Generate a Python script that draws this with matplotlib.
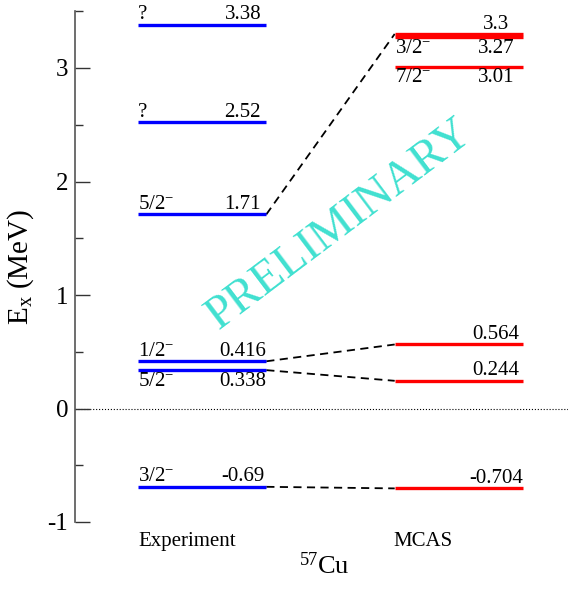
import matplotlib
matplotlib.use("Agg")
import matplotlib.pyplot as plt
from matplotlib.ticker import MultipleLocator

plt.rcParams['font.family'] = ['Liberation Serif', 'DejaVu Serif']
plt.rcParams['mathtext.fontset'] = 'custom'
plt.rcParams['mathtext.rm'] = 'Liberation Serif'
plt.rcParams['mathtext.it'] = 'Liberation Serif:italic'

# ---- data ----
columns = ['Experiment', 'MCAS']
exp_values = [3.38, 2.52, 1.71, 0.416, 0.338, -0.69]
exp_spins = ['?', '?', r'5/2$^{-}$', r'1/2$^{-}$', r'5/2$^{-}$', r'3/2$^{-}$']
exp_side = ['above', 'above', 'above', 'above', 'below', 'above']
exp_text = ['3.38', '2.52', '1.71', '0.416', '0.338', '-0.69']

mcas_values = [3.3, 3.27, 3.01, 0.564, 0.244, -0.704]
mcas_spins = ['', r'3/2$^{-}$', r'7/2$^{-}$', '', '', '']
mcas_side = ['above', 'below', 'below', 'above', 'above', 'above']
mcas_text = ['3.3', '3.27', '3.01', '0.564', '0.244', '-0.704']

links = [(1.71, 3.3), (0.416, 0.564), (0.338, 0.244), (-0.69, -0.704)]

# ---- layout ----
fig = plt.figure(figsize=(5.68, 5.89), dpi=100)
ax = fig.add_axes([75/568, 1-522/589, 1-75/568, (522-11.25)/589])
ax.set_xlim(0.5097, 4.350)
ax.set_ylim(-1, 3.5)

exp_x0, exp_x1 = 1.0, 2.0
mcas_x0, mcas_x1 = 3.0, 4.0
exp_vx = 1.817
mcas_vx = 3.79
fs = 15

ax.axhline(0, color='black', ls=':', lw=0.8, zorder=1)

def draw_levels(values, spins, sides, texts, x0, x1, vx, color):
    for v, s, side, t in zip(values, spins, sides, texts):
        ax.plot([x0, x1], [v, v], color=color, lw=2.4, solid_capstyle='butt', zorder=3)
        if side == 'above':
            va, dy = 'bottom', 0.3
        else:
            va, dy = 'top', -1.0
        if s:
            ax.annotate(s, (x0, v), xytext=(0, dy), textcoords='offset points',
                        ha='left', va=va, fontsize=fs)
        ax.annotate(t, (vx, v), xytext=(0, dy), textcoords='offset points',
                    ha='center', va=va, fontsize=fs)

draw_levels(exp_values, exp_spins, exp_side, exp_text, exp_x0, exp_x1, exp_vx, '#0000ff')
draw_levels(mcas_values, mcas_spins, mcas_side, mcas_text, mcas_x0, mcas_x1, mcas_vx, '#ff0000')

for a, b in links:
    ax.plot([exp_x1, mcas_x0], [a, b], color='black', lw=1.3, dashes=(4.5, 3), zorder=2)

ax.text(1.385, -1.172, columns[0], ha='center', va='center', fontsize=fs, clip_on=False)
ax.text(3.22, -1.172, columns[1], ha='center', va='center', fontsize=fs, clip_on=False)

ax.text(2.57, 1.62, 'PRELIMINARY', rotation=37, color='#40e0d0', fontsize=34,
        ha='center', va='center', rotation_mode='anchor', zorder=0)

# axes styling
for sp in ['top', 'right', 'bottom']:
    ax.spines[sp].set_visible(False)
ax.spines['left'].set_color('#555555')
ax.spines['left'].set_linewidth(1.2)
ax.set_xticks([])
ax.yaxis.set_minor_locator(MultipleLocator(0.5))
ax.set_yticks([-1, 0, 1, 2, 3])
ax.set_yticklabels(['-1', '0', '1', '2', '3'])
ax.tick_params(axis='y', which='major', direction='in', length=10.8, width=1.0,
               color='#333333', labelsize=18, pad=5)
ax.tick_params(axis='y', which='minor', direction='in', length=5.8, width=1.0,
               color='#333333')

ax.set_ylabel(r'E$_{\mathrm{x}}$ (MeV)', fontsize=21, labelpad=8)
fig.text(324/568, 1-566/589, r'$^{57}$Cu', ha='center', va='center', fontsize=19)

fig.savefig('out.png', dpi=100)
